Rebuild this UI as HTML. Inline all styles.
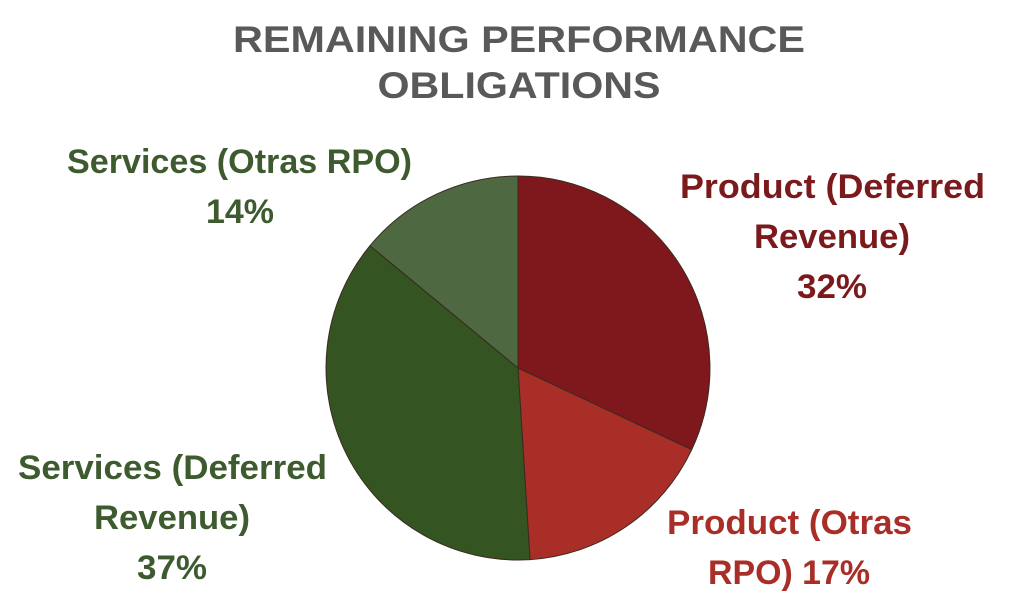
<!DOCTYPE html>
<html><head><meta charset="utf-8"><style>
html,body{margin:0;padding:0;background:#fff;}
svg{display:block;}
</style></head><body>
<svg width="1032" height="602" viewBox="0 0 1032 602" xmlns="http://www.w3.org/2000/svg">
<g font-family="Liberation Sans, Arial, sans-serif" font-weight="bold">
<text x="519" y="52" font-size="37" fill="#595959" text-anchor="middle" textLength="572" lengthAdjust="spacingAndGlyphs">REMAINING PERFORMANCE</text>
<text x="519" y="98" font-size="37" fill="#595959" text-anchor="middle" textLength="283" lengthAdjust="spacingAndGlyphs">OBLIGATIONS</text>
</g>
<g stroke="#3a2a20" stroke-width="1">
<path d="M518,368 L518,176 A192,192 0 0 1 691.7,449.7 Z" fill="#7e181c"/>
<path d="M518,368 L691.7,449.7 A192,192 0 0 1 530,559.6 Z" fill="#a82e27"/>
<path d="M518,368 L530,559.6 A192,192 0 0 1 370,245.7 Z" fill="#345522"/>
<path d="M518,368 L370,245.7 A192,192 0 0 1 518,176 Z" fill="#4e6942"/>
</g>
<g font-family="Liberation Sans, Arial, sans-serif" font-weight="bold" font-size="34">
<g fill="#3e5b2f">
<text x="67" y="173" textLength="345" lengthAdjust="spacingAndGlyphs">Services (Otras RPO)</text>
<text x="240" y="223" text-anchor="middle" textLength="68" lengthAdjust="spacingAndGlyphs">14%</text>
<text x="18" y="479" textLength="309" lengthAdjust="spacingAndGlyphs">Services (Deferred</text>
<text x="172" y="529" text-anchor="middle" textLength="156" lengthAdjust="spacingAndGlyphs">Revenue)</text>
<text x="172" y="579" text-anchor="middle" textLength="70" lengthAdjust="spacingAndGlyphs">37%</text>
</g>
<g fill="#7b1a1c">
<text x="680" y="198" textLength="305" lengthAdjust="spacingAndGlyphs">Product (Deferred</text>
<text x="832" y="248" text-anchor="middle" textLength="156" lengthAdjust="spacingAndGlyphs">Revenue)</text>
<text x="832" y="298" text-anchor="middle" textLength="70" lengthAdjust="spacingAndGlyphs">32%</text>
</g>
<g fill="#a82e27">
<text x="667" y="534" textLength="245" lengthAdjust="spacingAndGlyphs">Product (Otras</text>
<text x="708" y="584" textLength="162" lengthAdjust="spacingAndGlyphs">RPO) 17%</text>
</g>
</g>
</svg>
</body></html>
